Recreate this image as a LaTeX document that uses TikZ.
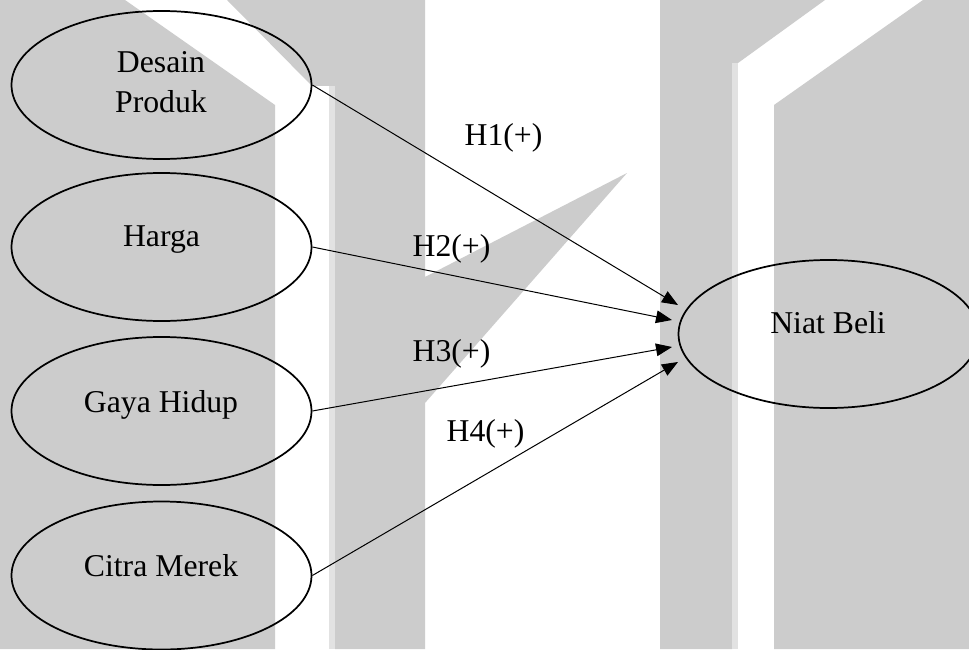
\documentclass[tikz,border=0pt]{standalone}
\usepackage{fontspec}
\setmainfont{Liberation Serif}
\usetikzlibrary{arrows.meta,shapes.geometric}
\definecolor{wmgray}{HTML}{CCCCCC}
\definecolor{wmline}{HTML}{E2E2E2}

\begin{document}
\begin{tikzpicture}[x=0.75pt,y=-0.75pt,
  construct/.style={ellipse, draw, line width=1.3pt, minimum width=225pt,
    minimum height=111pt, inner sep=0pt},
  txt/.style={font=\fontsize{23.8}{30}\selectfont, inner sep=0pt},
  hyp/.style={txt, anchor=base},
  link/.style={line width=0.75pt, -{Triangle[length=12pt,width=9.5pt]}}]

\useasboundingbox (0,0) rectangle (969,649);
\clip (0,0) rectangle (969,649);

% background stripes
\fill[white] (0,0) rectangle (969,649);
\fill[wmgray] (0,0) -- (125,0) -- (275,105) -- (275,649) -- (0,649) -- cycle;
\fill[wmgray] (227,0) -- (425,0) -- (425,277) -- (627,173) -- (425,403)
  -- (425,649) -- (335,649) -- (335,86) -- (312,86) -- cycle;
\fill[wmline] (329,86) rectangle (335,649);
\fill[wmgray] (660,0) -- (825,0) -- (738,63) -- (732,63) -- (732,649)
  -- (660,649) -- cycle;
\fill[wmline] (732,63) rectangle (738,649);
\fill[wmgray] (774,649) -- (774,105) -- (923,0) -- (969,0) -- (969,649) -- cycle;

% constructs
\node[construct] (dp) at (161.5,85) {};
\node[construct] (hg) at (161.5,247) {};
\node[construct] (gh) at (161.5,411) {};
\node[construct] (cm) at (161.5,575.5) {};
\node[construct] (nb) at (828.5,334) {};

\node[txt, align=center] (dpt) at (161,82) {Desain\\Produk};
\node[hyp] (hgt) at (161.5,246) {Harga};
\node[hyp] (ght) at (161,412) {Gaya Hidup};
\node[hyp] (cmt) at (161,576) {Citra Merek};
\node[hyp] (nbt) at (828,333) {Niat Beli};

% arrow tips stop short of the dependent construct
\coordinate (t1) at (678,305);
\coordinate (t2) at (672,320);
\coordinate (t3) at (672,347);
\coordinate (t4) at (678,362);

\draw[link] (dp.east) -- (t1);
\draw[link] (hg.east) -- (t2);
\draw[link] (gh.east) -- (t3);
\draw[link] (cm.east) -- (t4);

% hypothesis labels
\node[hyp] (h1) at (503.5,145) {H1(+)};
\node[hyp] (h2) at (451.5,256) {H2(+)};
\node[hyp] (h3) at (451.5,361) {H3(+)};
\node[hyp] (h4) at (485.5,441) {H4(+)};
\end{tikzpicture}
\end{document}
